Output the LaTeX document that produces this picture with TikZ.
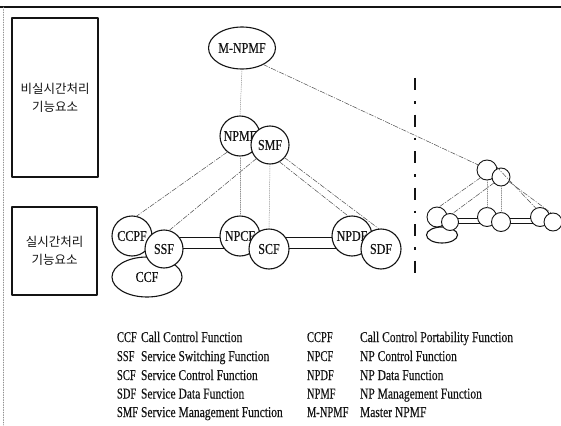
\documentclass[tikz,border=0pt]{standalone}
\usepackage{fontspec}
\setmainfont[FakeStretch=0.77,FakeBold=0.3]{Liberation Serif}
\newfontfamily\fnfont[FakeStretch=0.8,FakeBold=0.3]{Liberation Serif}
\newfontfamily\abbrfont[FakeStretch=0.7,FakeBold=0.3]{Liberation Serif}
\newfontfamily\hangul{Noto Sans CJK KR}
\usetikzlibrary{shapes.geometric,backgrounds}
\definecolor{NpInk}{gray}{0.08}
\definecolor{NpLink}{gray}{0.30}
\definecolor{NpGuide}{gray}{0.55}
\tikzset{
    np/diagram/.style={
        font=\fontsize{15}{17}\selectfont,
        color=NpInk,
        line width=0.9pt,
        line cap=round,
        line join=round,
        every node/.style={inner sep=0pt, outer sep=0pt}
    },
    np/frame/.style={draw=NpInk, line width=1.1pt},
    np/edge/.style={draw=NpGuide, line width=0.5pt, dash pattern=on 1pt off 1.5pt},
    np/layer/.style={
        rectangle, draw=NpInk, line width=1.1pt, align=center,
        font=\hangul\fontsize{12.5}{18}\selectfont
    },
    np/fn/.style={
        circle, draw=NpInk, fill=white, line width=1.1pt, minimum size=40pt,
        font=\fnfont\fontsize{15}{17}\selectfont
    },
    np/fnsmall/.style={circle, draw=NpInk, fill=white, line width=0.9pt, minimum size=19pt},
    np/oval/.style={
        ellipse, draw=NpInk, fill=white, line width=1.1pt,
        font=\fnfont\fontsize{15}{17}\selectfont
    },
    np/link/.style={
        draw=NpLink, line width=0.5pt,
        dash pattern=on 5pt off 1.5pt on 1pt off 1.5pt
    },
    np/drop/.style={draw=NpGuide, line width=0.5pt, dash pattern=on 1pt off 1.2pt},
    np/rail/.style={draw=NpInk, line width=1.2pt, double=white, double distance=10pt},
    np/railsmall/.style={draw=NpInk, line width=1.1pt, double=white, double distance=4pt},
    np/border/.style={
        draw=NpInk, line width=2.6pt, line cap=butt,
        dash pattern=on 12pt off 11pt on 2.5pt off 11pt
    },
    np/abbr/.style={anchor=base west, font=\abbrfont\fontsize{15}{17}\selectfont},
    np/desc/.style={anchor=base west}
}

\begin{document}
\begin{tikzpicture}[np/diagram, x=1pt, y=-1pt]
    \useasboundingbox (0,0) rectangle (561,425);
    \draw[np/frame] (0,7) -- (561,7);
    \draw[np/edge] (3,7) -- (3,425);

    \node[np/layer, minimum width=86pt, minimum height=159pt] (nonreal)
        at (55,97.5) {비실시간처리\\기능요소};
    \node[np/layer, minimum width=85pt, minimum height=88pt] (real)
        at (54.5,251) {실시간처리\\기능요소};

    \node[np/oval, minimum width=60pt, minimum height=42pt] (mnpmf) at (242,48) {M-NPMF};
    \node[np/fn] (npmf) at (240,136) {NPMF\hspace{6pt}};
    \node[np/fn, minimum size=38pt] (smf) at (270,145) {SMF};

    \node[np/oval, minimum width=70pt, minimum height=40pt] (ccf) at (147,277) {CCF};
    \node[np/fn] (ccpf) at (132,236) {CCPF};
    \node[np/fn, minimum size=38pt] (ssf) at (164,249) {SSF};
    \node[np/fn] (npcf) at (240,236) {NPCF\hspace{3pt}};
    \node[np/fn] (scf) at (269,249) {SCF};
    \node[np/fn] (npdf) at (352,236) {NPDF\hspace{3pt}};
    \node[np/fn] (sdf) at (381,249) {SDF};

    \draw[np/drop] (mnpmf.south) -- (npmf.north);
    \draw[np/link] (npmf.232) -- (ccpf.78);
    \draw[np/link] (smf.225) -- (ssf.75);
    \draw[np/drop] (npmf.south) -- (npcf.north);
    \draw[np/drop] (smf.south) -- (scf.north);
    \draw[np/link] (smf.-61) -- (npdf.100);
    \draw[np/link] (smf.-41) -- (sdf.95);

    \draw[np/border] (415,78) -- (415,283);

    \node[np/oval, minimum width=31pt, minimum height=16pt] (rccf) at (442,235) {};
    \node[np/fnsmall, minimum size=20pt] (rtop) at (487,170) {};
    \node[np/fnsmall, minimum size=18pt] (rtop2) at (501,177) {};
    \node[np/fnsmall, minimum size=20pt] (rl) at (437,217) {};
    \node[np/fnsmall, minimum size=17pt] (rl2) at (450,222) {};
    \node[np/fnsmall] (rm) at (487,217) {};
    \node[np/fnsmall] (rm2) at (501,222) {};
    \node[np/fnsmall] (rr) at (540,217) {};
    \node[np/fnsmall, minimum size=18pt] (rr2) at (553,222) {};

    \draw[np/link] (mnpmf.-38) -- (rtop.150);
    \draw[np/link] (rtop.230) -- (rl.80);
    \draw[np/link] (rtop2.220) -- (rl2.75);
    \draw[np/drop] (rtop.south) -- (rm.north);
    \draw[np/drop] (rtop2.south) -- (rm2.north);
    \draw[np/link] (rtop.20) -- (rr.115);
    \draw[np/link] (rtop2.-30) -- (rr2.100);

    \begin{scope}[on background layer]
        \draw[np/rail] ([yshift=6pt]ssf.center) -- ([yshift=-7pt]npcf.center);
        \draw[np/rail] ([yshift=6pt]scf.center) -- ([yshift=-7pt]npdf.center);
        \draw[np/railsmall] ([yshift=1pt]rl2.center) -- ([yshift=-4pt]rm.center);
        \draw[np/railsmall] ([yshift=1pt]rm2.center) -- ([yshift=-4pt]rr.center);
    \end{scope}

    \node[np/abbr] (kccf) at (117,342) {CCF};
    \node[np/desc] (dccf) at (141,342) {Call Control Function};
    \node[np/abbr] (kssf) at (117,361) {SSF};
    \node[np/desc] (dssf) at (141,361) {Service Switching Function};
    \node[np/abbr] (kscf) at (117,380) {SCF};
    \node[np/desc] (dscf) at (141,380) {Service Control Function};
    \node[np/abbr] (ksdf) at (117,398.5) {SDF};
    \node[np/desc] (dsdf) at (141,398.5) {Service Data Function};
    \node[np/abbr] (ksmf) at (117,417) {SMF};
    \node[np/desc] (dsmf) at (141,417) {Service Management Function};

    \node[np/abbr] (kccpf) at (307,342) {CCPF};
    \node[np/desc] (dccpf) at (360,342) {Call Control Portability Function};
    \node[np/abbr] (knpcf) at (307,361) {NPCF};
    \node[np/desc] (dnpcf) at (360,361) {NP Control Function};
    \node[np/abbr] (knpdf) at (307,380) {NPDF};
    \node[np/desc] (dnpdf) at (360,380) {NP Data Function};
    \node[np/abbr] (knpmf) at (307,398.5) {NPMF};
    \node[np/desc] (dnpmf) at (360,398.5) {NP Management Function};
    \node[np/abbr] (kmnpmf) at (307,417) {M-NPMF};
    \node[np/desc] (dmnpmf) at (360,417) {Master NPMF};
\end{tikzpicture}
\end{document}
